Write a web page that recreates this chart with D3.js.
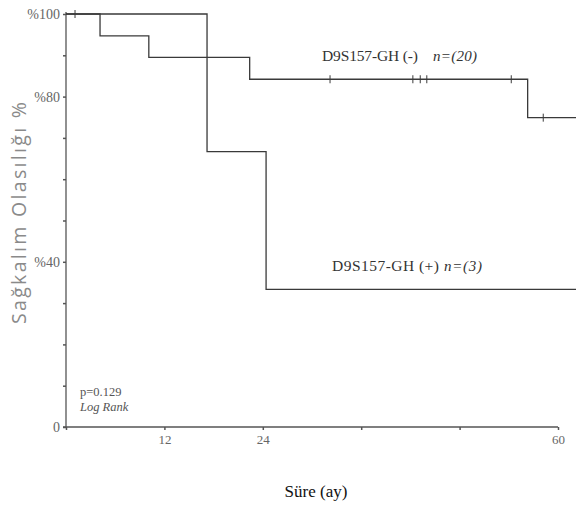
<!DOCTYPE html>
<html>
<head>
<meta charset="utf-8">
<script src="https://cdn.jsdelivr.net/npm/d3@7"></script>
<style>
  html, body { margin: 0; padding: 0; background: #fff; }
  svg { display: block; }
</style>
</head>
<body>
<svg id="chart" width="576" height="508"></svg>
<script>
// ---- data ----
const negTimes = [0, 4.15, 10.1, 22.4, 56.3, 62.2];
const negSurv  = [100, 94.7, 89.5, 84.2, 74.9, 74.9];
const negCensorTimes = [1.1, 32.2, 42.3, 43.2, 44.0, 54.3, 58.2];
const negCensorSurv  = [100, 84.2, 84.2, 84.2, 84.2, 84.2, 74.9];

const posTimes = [0, 17.2, 24.4, 62.2];
const posSurv  = [100, 66.7, 33.3, 33.3];

const xTicks = [0, 12, 24, 36, 48, 60];
const xTickLabels = ["", "12", "24", "", "", "60"];
const yTicks = [0, 10, 20, 30, 40, 50, 60, 70, 80, 90, 100];
const yTickLabels = ["0", "", "", "", "%40", "", "", "", "%80", "", "%100"];

const negLabel = "D9S157-GH (-)";
const negN = "n=(20)";
const posLabel = "D9S157-GH (+)";
const posN = "n=(3)";
const pText = "p=0.129";
const testText = "Log Rank";
const xTitle = "Süre (ay)";
const yTitle = "Sağkalım Olasılığı %";

// ---- drawing ----
const svg = d3.select("#chart");
const x = d3.scaleLinear().domain([0, 60]).range([66, 558]);
const y = d3.scaleLinear().domain([0, 100]).range([427, 14]);

const serif = "'Liberation Serif', 'DejaVu Serif', serif";
const lineColor = "#3a3a3a";
const textGray = "#666";

// axes
const yAxis = d3.axisLeft(y).tickValues(yTicks).tickSize(3).tickPadding(3)
  .tickFormat((d, i) => yTickLabels[i]);
const gy = svg.append("g").attr("transform", `translate(${x(0)},0)`).call(yAxis);
gy.select(".domain").attr("stroke", "#555").attr("stroke-width", 1.3)
  .attr("d", `M0,${y(100) - 2}V${y(0) + 1}`);
gy.selectAll(".tick line").attr("stroke", "#555").attr("stroke-width", 1.5);
gy.selectAll(".tick text").attr("font-family", serif).attr("font-size", 14).attr("fill", textGray);

const xAxis = d3.axisBottom(x).tickValues(xTicks).tickSize(3).tickPadding(5)
  .tickFormat((d, i) => xTickLabels[i]);
const gx = svg.append("g").attr("transform", `translate(0,${y(0)})`).call(xAxis);
gx.select(".domain").attr("stroke", "#555").attr("stroke-width", 1.3)
  .attr("d", `M${x(0) - 3},0H${x(60)}`);
gx.selectAll(".tick line").attr("stroke", "#555").attr("stroke-width", 1.5);
gx.selectAll(".tick text").attr("font-family", serif).attr("font-size", 13).attr("fill", textGray);

// curves
const line = d3.line().x(d => x(d[0])).y(d => y(d[1])).curve(d3.curveStepAfter);
const negData = negTimes.map((t, i) => [t, negSurv[i]]);
const posData = posTimes.map((t, i) => [t, posSurv[i]]);

svg.append("path").datum(posData).attr("d", line)
  .attr("fill", "none").attr("stroke", lineColor).attr("stroke-width", 1.3);
svg.append("path").datum(negData).attr("d", line)
  .attr("fill", "none").attr("stroke", lineColor).attr("stroke-width", 1.3);

// censor marks
svg.append("g").selectAll("line").data(negCensorTimes.map((t, i) => [t, negCensorSurv[i]]))
  .join("line")
  .attr("x1", d => x(d[0])).attr("x2", d => x(d[0]))
  .attr("y1", d => y(d[1]) - 4).attr("y2", d => y(d[1]) + 4)
  .attr("stroke", lineColor).attr("stroke-width", 1);

// curve labels
svg.append("text").attr("x", 322).attr("y", 61)
  .attr("font-family", serif).attr("font-size", 15.5).attr("fill", "#333")
  .attr("textLength", 96).text(negLabel);
svg.append("text").attr("x", 433).attr("y", 61)
  .attr("font-family", serif).attr("font-size", 15).attr("font-style", "italic").attr("fill", "#333")
  .attr("textLength", 44).text(negN);

svg.append("text").attr("x", 332).attr("y", 271)
  .attr("font-family", serif).attr("font-size", 15.5).attr("fill", "#333")
  .attr("textLength", 107).text(posLabel);
svg.append("text").attr("x", 444).attr("y", 271)
  .attr("font-family", serif).attr("font-size", 15).attr("font-style", "italic").attr("fill", "#333")
  .attr("textLength", 38).text(posN);

// p value
svg.append("text").attr("x", 80).attr("y", 396)
  .attr("font-family", serif).attr("font-size", 12.5).attr("fill", "#555").text(pText);
svg.append("text").attr("x", 80).attr("y", 411)
  .attr("font-family", serif).attr("font-size", 12.5).attr("font-style", "italic")
  .attr("fill", "#555").text(testText);

// titles
svg.append("text").attr("x", 316).attr("y", 497).attr("text-anchor", "middle")
  .attr("font-family", serif).attr("font-size", 17).attr("fill", "#111").text(xTitle);
svg.append("text").attr("transform", "translate(26,213) rotate(-90)")
  .attr("text-anchor", "middle")
  .attr("font-family", "'Open Sans', 'DejaVu Sans', sans-serif")
  .attr("font-size", 19.5).attr("fill", "#8a8a8a")
  .attr("textLength", 222).text(yTitle);
</script>
</body>
</html>
